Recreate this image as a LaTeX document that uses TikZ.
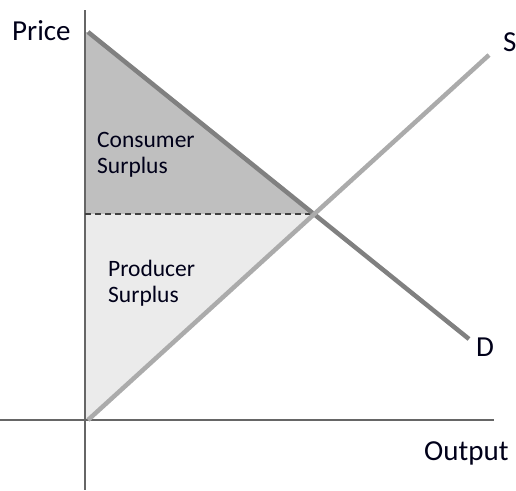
\documentclass[tikz,border=0pt]{standalone}
\usepackage{fontspec}
\setmainfont{Carlito}
\begin{document}
\begin{tikzpicture}[x=1pt,y=-1pt,
  axis/.style={draw=black!60,line width=2pt},
  demand/.style={draw=black!50,line width=4.5pt},
  supply/.style={draw=black!33,line width=4.5pt},
  guide/.style={draw=black!75,line width=1.3pt,dash pattern=on 6pt off 4pt},
  cs/.style={fill=black!25},
  ps/.style={fill=black!8},
  lbl/.style={inner sep=0pt,text=black!90!blue,font=\fontsize{29}{32}\selectfont},
  area/.style={inner sep=0pt,text=black!90!blue,align=left,font=\fontsize{23.5}{26}\selectfont}]
\useasboundingbox (0,0) rectangle (516,490);
% axes and curve end points
\coordinate (ytop) at (85,10);
\coordinate (ybot) at (85,490);
\coordinate (xl) at (0,420);
\coordinate (xr) at (494,420);
\coordinate (O) at (88,420);
\coordinate (Dtop) at (88,32);
\coordinate (Dend) at (469,339);
\coordinate (Send) at (489,55);
\coordinate (E) at (316,214);
\coordinate (P) at (85,214);
% surplus areas
\fill[cs] (85,32) -- (Dtop) -- (E) -- (P) -- cycle;
\fill[ps] (P) -- (E) -- (O) -- (85,420) -- cycle;
% axes
\draw[axis] (ytop) -- (ybot);
\draw[axis] (xl) -- (xr);
% price level at equilibrium
\draw[guide] (P) -- (E);
% demand and supply
\draw[demand] (Dtop) -- (Dend);
\draw[supply] (O) -- (Send);
% labels (base anchor of a two-line node is the last line's baseline)
\node[lbl,anchor=base west] (price) at (12,40) {Price};
\node[lbl,anchor=base west] (output) at (424,460) {Output};
\node[lbl,anchor=base west] (s) at (503,51) {S};
\node[lbl,anchor=base west] (d) at (476,356) {D};
\node[area,anchor=base west] (csl) at (97,173) {Consumer\\Surplus};
\node[area,anchor=base west] (psl) at (108,302) {Producer\\Surplus};
\end{tikzpicture}
\end{document}
